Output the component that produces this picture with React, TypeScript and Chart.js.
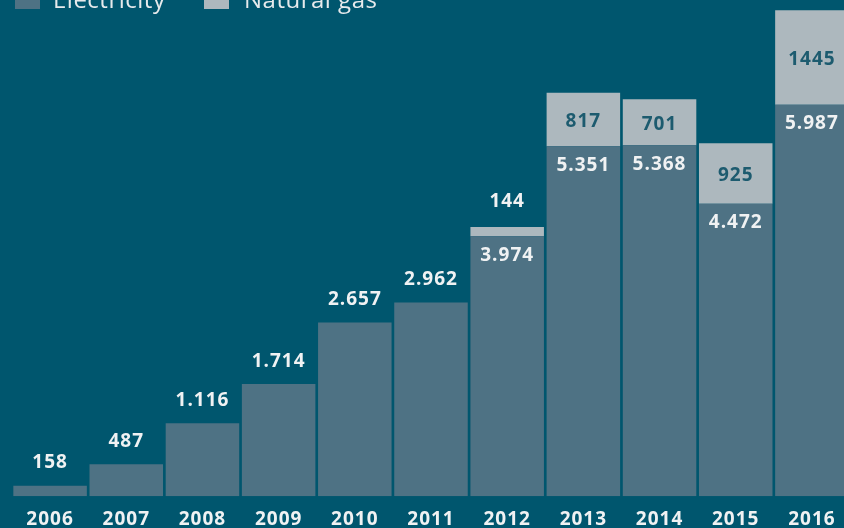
import React, { useEffect, useRef } from "react";
import { Chart, registerables } from "chart.js";

Chart.register(...registerables);

const years = ["2006", "2007", "2008", "2009", "2010", "2011", "2012", "2013", "2014", "2015", "2016"];
const electricity = [158, 487, 1116, 1714, 2657, 2962, 3974, 5351, 5368, 4472, 5987];
const naturalGas = [0, 0, 0, 0, 0, 0, 144, 817, 701, 925, 1445];
const seriesNames = ["Electricity", "Natural gas"];

const BG = "#00566e";
const ELEC = "#4e7284";
const GAS = "#adb8be";
const LIGHT = "#f0f2f3";
const DARK_TEXT = "#1d5b6f";
const FONT = "'Open Sans', 'DejaVu Sans', sans-serif";

function formatThousands(n: number): string {
  if (n < 1000) return String(n);
  const th = Math.floor(n / 1000);
  const rest = String(n % 1000).padStart(3, "0");
  return th + "." + rest;
}

const labelPlugin = {
  id: "barLabels",
  beforeDraw(chart: any) {
    (chart.ctx as any).letterSpacing = "1px";
  },
  afterDatasetsDraw(chart: any) {
    const ctx = chart.ctx as CanvasRenderingContext2D;
    const elecMeta = chart.getDatasetMeta(0);
    const gasMeta = chart.getDatasetMeta(1);
    ctx.save();
    (ctx as any).letterSpacing = "1px";
    ctx.font = `700 19px ${FONT}`;
    ctx.textAlign = "center";
    ctx.textBaseline = "middle";
    elecMeta.data.forEach((bar: any, i: number) => {
      const txt = formatThousands(electricity[i]);
      ctx.fillStyle = LIGHT;
      if (!naturalGas[i]) {
        ctx.fillText(txt, bar.x, bar.y - 23);
      } else {
        ctx.fillText(txt, bar.x, bar.y + 19);
      }
    });
    gasMeta.data.forEach((bar: any, i: number) => {
      const g = naturalGas[i];
      if (!g) return;
      const h = bar.base - bar.y;
      if (h < 30) {
        ctx.fillStyle = LIGHT;
        ctx.fillText(String(g), bar.x, bar.y - 25);
      } else {
        ctx.fillStyle = DARK_TEXT;
        ctx.fillText(String(g), bar.x, (bar.y + bar.base) / 2 + 2);
      }
    });
    ctx.restore();
  },
};

export default function App() {
  const canvasRef = useRef<HTMLCanvasElement | null>(null);

  useEffect(() => {
    if (!canvasRef.current) return;
    const chart = new Chart(canvasRef.current, {
      type: "bar",
      data: {
        labels: years,
        datasets: [
          {
            label: seriesNames[0],
            data: electricity,
            backgroundColor: ELEC,
            borderWidth: 0,
            categoryPercentage: 1,
            barPercentage: 0.965,
          },
          {
            label: seriesNames[1],
            data: naturalGas,
            backgroundColor: GAS,
            borderWidth: 0,
            categoryPercentage: 1,
            barPercentage: 0.965,
          },
        ],
      },
      options: {
        responsive: false,
        animation: false,
        devicePixelRatio: 1,
        layout: { padding: { left: 12, right: 2, top: 9, bottom: 0 } },
        plugins: {
          legend: { display: false },
          tooltip: { enabled: false },
          title: { display: false },
        },
        scales: {
          x: {
            stacked: true,
            grid: { display: false, drawTicks: false },
            border: { display: false },
            ticks: {
              color: LIGHT,
              font: { family: FONT, size: 19, weight: "bold" },
              padding: 12,
              maxRotation: 0,
              autoSkip: false,
            },
          },
          y: {
            stacked: true,
            display: false,
            min: 0,
            max: 7450,
          },
        },
      },
      plugins: [labelPlugin],
    });
    return () => chart.destroy();
  }, []);

  const legendItem = (left: number, color: string, textLeft: number, text: string) => (
    <>
      <div
        style={{
          position: "absolute",
          left,
          top: -16,
          width: 25,
          height: 25,
          background: color,
        }}
      />
      <div
        style={{
          position: "absolute",
          left: textLeft,
          top: -12,
          fontFamily: FONT,
          fontSize: 24,
          fontWeight: 500,
          letterSpacing: "0.5px",
          lineHeight: "22px",
          color: "#e6eaec",
          whiteSpace: "nowrap",
        }}
      >
        {text}
      </div>
    </>
  );

  return (
    <div
      style={{
        position: "fixed",
        left: 0,
        top: 0,
        width: 844,
        height: 528,
        overflow: "hidden",
        background: BG,
      }}
    >
      <canvas
        ref={canvasRef}
        width={852}
        height={543}
        style={{ position: "absolute", left: 0, top: 0, width: 852, height: 543 }}
      />
      {legendItem(15, ELEC, 53, seriesNames[0])}
      {legendItem(204, GAS, 244, seriesNames[1])}
    </div>
  );
}
